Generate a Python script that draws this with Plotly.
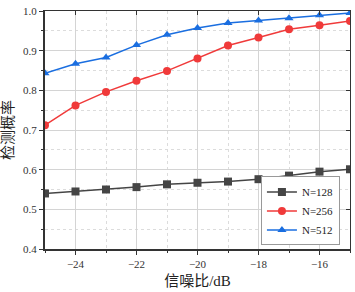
import plotly.graph_objects as go

snr = [-25, -24, -23, -22, -21, -20, -19, -18, -17, -16, -15]
n128 = [0.540, 0.545, 0.550, 0.556, 0.563, 0.567, 0.570, 0.576, 0.585, 0.595, 0.601]
n256 = [0.712, 0.762, 0.796, 0.824, 0.849, 0.880, 0.913, 0.933, 0.954, 0.964, 0.975]
n512 = [0.843, 0.867, 0.883, 0.914, 0.940, 0.957, 0.970, 0.976, 0.982, 0.989, 0.995]
xticks = [-24, -22, -20, -18, -16]
yticks = [0.4, 0.5, 0.6, 0.7, 0.8, 0.9, 1.0]

FONT = "Liberation Serif, Noto Sans CJK SC, serif"
fig = go.Figure()
series = [("N=128", n128, "#454545", "square"),
          ("N=256", n256, "#f03a3a", "circle"),
          ("N=512", n512, "#1a6ee0", "triangle-up")]
for name, ys, col, sym in series:
    fig.add_trace(go.Scatter(x=snr, y=ys, name=name, mode="lines+markers",
                             line=dict(color=col, width=1.5),
                             marker=dict(symbol=sym, size=8, color=col)))

axcol = "#333333"
fig.update_layout(
    width=355, height=292,
    margin=dict(l=45, r=5, t=5, b=41),
    paper_bgcolor="white", plot_bgcolor="white",
    font=dict(family=FONT, size=11, color="#333333"),
    showlegend=True,
    legend=dict(x=0.967, y=0.015, xanchor="right", yanchor="bottom",
                bgcolor="white", bordercolor="#999999", borderwidth=1,
                font=dict(family=FONT, size=11, color="#222222"),
                tracegroupgap=0, itemwidth=30),
    xaxis=dict(range=[-25, -15], tickvals=xticks, ticks="outside", ticklen=4,
               tickcolor=axcol, showline=True, linecolor=axcol, linewidth=2,
               showgrid=True, gridcolor="#d4d4d4", gridwidth=1, zeroline=False,
               ticklabeloverflow="allow",
               minor=dict(dtick=1, tick0=-25, ticks="outside", ticklen=2, tickcolor=axcol,
                          showgrid=True, gridcolor="#dcdcdc", griddash="dot"),
               title=dict(text="信噪比/dB", font=dict(family=FONT, size=15, color="#222222"),
                          standoff=6)),
    yaxis=dict(range=[0.4, 1.0], tickvals=yticks, tickformat=".1f", ticks="outside",
               ticklen=4, tickcolor=axcol, showline=True, linecolor=axcol, linewidth=2,
               showgrid=True, gridcolor="#d4d4d4", gridwidth=1, zeroline=False,
               ticklabeloverflow="allow",
               minor=dict(dtick=0.05, tick0=0.4, ticks="outside", ticklen=2, tickcolor=axcol,
                          showgrid=True, gridcolor="#dcdcdc", griddash="dot"),
               title=dict(text="检测概率", font=dict(family=FONT, size=15, color="#222222"),
                          standoff=6)),
    xaxis2=dict(range=[-25, -15], overlaying="x", side="top", tickvals=xticks,
                ticks="inside", ticklen=4, tickcolor=axcol, showticklabels=False,
                showline=True, linecolor=axcol, linewidth=1, showgrid=False, zeroline=False,
                anchor="y"),
    yaxis2=dict(range=[0.4, 1.0], overlaying="y", side="right", tickvals=yticks,
                ticks="inside", ticklen=4, tickcolor=axcol, showticklabels=False,
                showline=True, linecolor=axcol, linewidth=1, showgrid=False, zeroline=False,
                anchor="x"),
)
# invisible trace to activate the secondary axes
fig.add_trace(go.Scatter(x=[None], y=[None], xaxis="x2", yaxis="y2", showlegend=False,
                         hoverinfo="skip"))
fig.write_html("out.html", config={"displayModeBar": False},
               post_script="document.body.style.margin='0';")
